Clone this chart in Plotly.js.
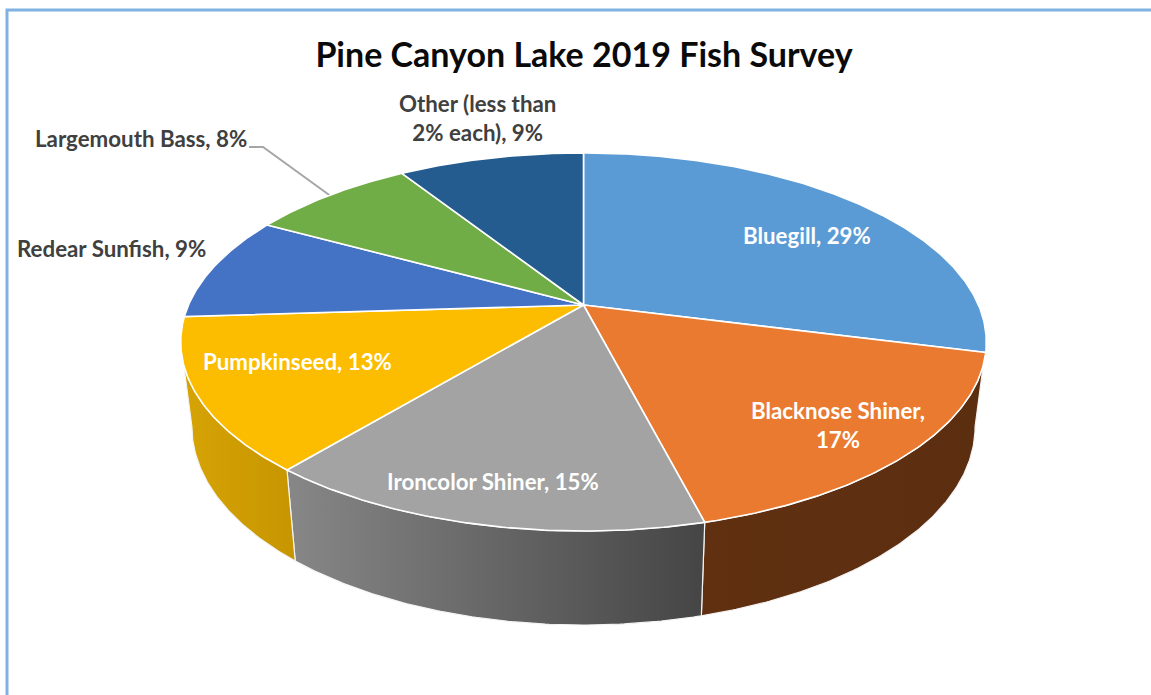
<!DOCTYPE html>
<html>
<head>
<meta charset="utf-8">
<title>Pine Canyon Lake 2019 Fish Survey</title>
<script src="https://cdn.plot.ly/plotly-3.0.1.min.js"></script>
<style>html,body{margin:0;padding:0;background:#fff}#chart{width:1151px;height:695px}</style>
</head>
<body>
<div id="chart"></div>
<script>
// Survey shares, clockwise from twelve o'clock
const species = ['Bluegill','Blacknose Shiner','Ironcolor Shiner','Pumpkinseed','Redear Sunfish','Largemouth Bass','Other (less than 2% each)'];
const shares = [29,17,15,13,9,8,9];
const topColors = ['#5b9bd5','#e97a2f','#a3a3a3','#fcbd00','#4472c4','#70ad47','#245c90'];
const labelText = ['Bluegill, 29%','Blacknose Shiner,<br>17%','Ironcolor Shiner, 15%','Pumpkinseed, 13%','Redear Sunfish, 9%','Largemouth Bass, 8%','Other (less than<br>2% each), 9%'];
const labelColor = ['#ffffff','#ffffff','#ffffff','#ffffff','#404040','#404040','#404040'];
const labelX = [807,838,493,297,111,141,477];
const labelY = [235,425,481,361,248,138,118];

// Side-wall shading, left to right, for the slices that face the viewer
const wallShade = {
  1: ['#603010','#5c2e10'],
  2: ['#878787','#454545'],
  3: ['#d6a404','#c79500']
};

// Perspective projection of the unit disc onto the page
const TILT = -0.1958, CX = 583.5;
const TOP = {A: 395, Y: 305, B: 181.8};
const BOTTOM = {A: 384, Y: 388, B: 190.6};
// Angles at which the rim turns away from the viewer; walls stop here
const WALL_FROM = 101.3, WALL_TO = 258.7;

function project(deg, disc) {
  const t = deg * Math.PI / 180, u = Math.sin(t), v = -Math.cos(t), w = 1 + TILT * v;
  return [CX + disc.A * u / w, disc.Y + disc.B * v / w];
}
function arc(from, to, disc) {
  const n = Math.max(2, Math.ceil(Math.abs(to - from) * 2)), pts = [];
  for (let i = 0; i <= n; i++) pts.push(project(from + (to - from) * i / n, disc));
  return pts;
}

const edges = [0];
shares.forEach(s => edges.push(edges[edges.length - 1] + s * 3.6));

const walls = [], tops = [];
species.forEach((name, i) => {
  const a = edges[i], b = edges[i + 1];
  if (wallShade[i]) {
    const from = (i === 1) ? WALL_FROM : a, to = (i === 3) ? WALL_TO : b;
    const pts = arc(from, to, TOP).concat(arc(to, from, BOTTOM));
    pts.push(pts[0]);
    walls.push({
      type: 'scatter', mode: 'lines', name: name, hoverinfo: 'skip', showlegend: false,
      x: pts.map(p => p[0]), y: pts.map(p => p[1]),
      fill: 'toself',
      fillgradient: {type: 'horizontal', colorscale: [[0, wallShade[i][0]], [1, wallShade[i][1]]]},
      line: {color: '#f4f4f4', width: 1.2}
    });
  }
  const pts = [project(0, {A: 0, Y: TOP.Y, B: 0})].concat(arc(a, b, TOP));
  pts.push(pts[0]);
  tops.push({
    type: 'scatter', mode: 'lines', name: name, showlegend: false,
    x: pts.map(p => p[0]), y: pts.map(p => p[1]),
    fill: 'toself', fillcolor: topColors[i],
    line: {color: '#ffffff', width: 1.6},
    hoverinfo: 'text', hoveron: 'fills', text: name + ': ' + shares[i] + '%'
  });
});

// Leader from the Largemouth Bass label to the middle of its slice's rim
const rim = project((edges[5] + edges[6]) / 2, TOP);

const layout = {
  width: 1151, height: 695,
  margin: {l: 0, r: 0, t: 0, b: 0},
  paper_bgcolor: '#ffffff', plot_bgcolor: '#ffffff',
  showlegend: false,
  title: {
    text: '<b>Pine Canyon Lake 2019 Fish Survey</b>',
    x: 584 / 1151, xanchor: 'center', xref: 'paper',
    y: 1 - 55 / 695, yanchor: 'middle', yref: 'paper',
    font: {family: 'Lato, sans-serif', size: 34, color: '#0a0a0a'}
  },
  xaxis: {range: [0, 1151], visible: false, fixedrange: true},
  yaxis: {range: [695, 0], visible: false, fixedrange: true},
  shapes: [
    {type: 'path', xref: 'x', yref: 'y', layer: 'below',
     path: 'M 7 700 L 7 10 L 1160 10',
     line: {color: '#7fb1e2', width: 3}},
    {type: 'path', xref: 'x', yref: 'y', layer: 'below',
     path: `M 249 147 L 263 147 L ${rim[0]} ${rim[1]}`,
     line: {color: '#a6a6a6', width: 2}}
  ],
  annotations: labelText.map((t, i) => ({
    text: '<b>' + t + '</b>', x: labelX[i], y: labelY[i], xref: 'x', yref: 'y',
    showarrow: false, xanchor: 'center', yanchor: 'middle', align: 'center',
    font: {family: 'Lato, sans-serif', size: 22.3, color: labelColor[i]}
  }))
};

Plotly.newPlot('chart', walls.concat(tops), layout, {displayModeBar: false});
</script>
</body>
</html>
